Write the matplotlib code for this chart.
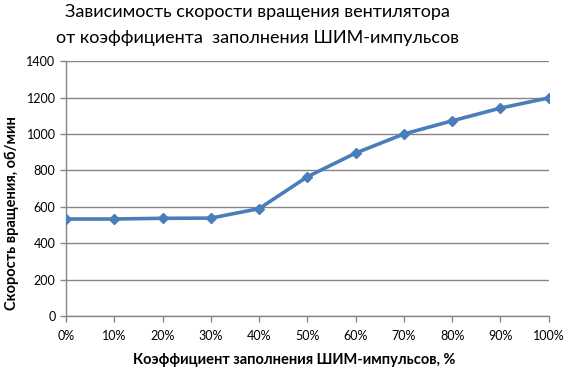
import numpy as np
import matplotlib
matplotlib.use("Agg")
import matplotlib.pyplot as plt
from matplotlib.ticker import FuncFormatter

# ---------- Data ----------
duty = [0, 10, 20, 30, 40, 50, 60, 70, 80, 90, 100]
speed = [533, 533, 537, 538, 590, 765, 895, 1000, 1072, 1142, 1198]
y_ticks = [0, 200, 400, 600, 800, 1000, 1200, 1400]

title = "Зависимость скорости вращения вентилятора\nот коэффициента  заполнения ШИМ-импульсов"
xlabel = "Коэффициент заполнения ШИМ-импульсов, %"
ylabel = "Скорость вращения, об/мин"

plt.rcParams['font.family'] = ['Lato', 'DejaVu Sans']

line_color = "#4a7ebb"
grid_color = "#868686"

fig = plt.figure(figsize=(5.64, 3.68), dpi=100)
ax = fig.add_axes([0.117, 0.141, 0.856, 0.693])

ax.plot(duty, speed, color=line_color, lw=2.6, marker="D", ms=5.5,
        markeredgecolor=line_color, zorder=3)

ax.set_xlim(0, 100)
ax.set_ylim(0, 1400)
ax.set_xticks(duty)
ax.set_yticks(y_ticks)
ax.xaxis.set_major_formatter(FuncFormatter(lambda v, p: f"{int(v)}%"))

ax.grid(axis="y", color=grid_color, lw=1)
ax.set_axisbelow(True)
for s in ["top", "right"]:
    ax.spines[s].set_visible(False)
for s in ["left", "bottom"]:
    ax.spines[s].set_color(grid_color)
    ax.spines[s].set_linewidth(1)
ax.tick_params(axis="both", colors=grid_color, length=4, width=1,
               labelsize=9, labelcolor="black")
ax.tick_params(axis="x", pad=6)

ax.set_xlabel(xlabel, fontsize=10.5, fontweight="bold")
ax.xaxis.set_label_coords(0.472, -0.145)
ax.set_ylabel(ylabel, fontsize=10.5, fontweight="bold")
ax.yaxis.set_label_coords(-0.098, 0.405)

fig.text(0.456, 0.99, title, ha="center", va="top", fontsize=13,
         linespacing=1.8)

fig.savefig("out.png", dpi=100)
